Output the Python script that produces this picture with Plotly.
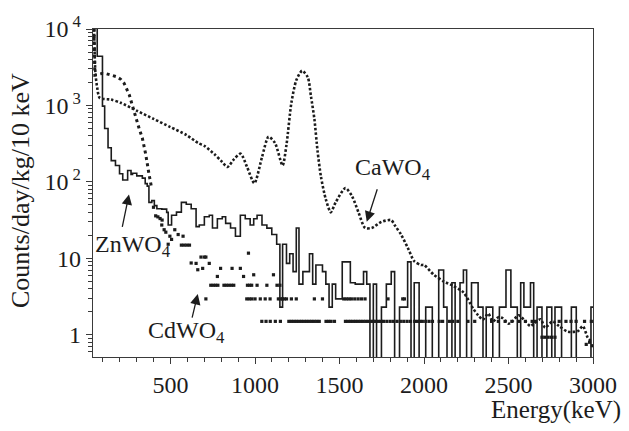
import plotly.graph_objects as go

# ---------------- data ----------------
# ZnWO4 : step histogram, left bin edges (keV) and counts/day/kg/10keV
# 0.01 marks an empty bin (drawn below the visible range)
Z = 0.01
zn_e = [45, 66, 97, 110, 130, 149, 174, 198, 217, 246, 266, 275, 300, 333, 350, 362, 372,
        389, 404, 419, 448, 477, 486, 506, 535, 564, 593, 622, 651, 670, 700, 729, 748,
        777, 806, 826, 855, 884, 913, 942, 971, 992, 1012, 1041, 1070, 1099, 1128, 1147,
        1163, 1186, 1205, 1225, 1244, 1260, 1283, 1322, 1341, 1360, 1399, 1419, 1438,
        1457, 1477, 1516, 1564, 1593, 1642, 1661, 1680, 1700, 1719, 1748, 1777, 1806,
        1826, 1855, 1903, 1923, 1942, 1971, 2010, 2049, 2087, 2116, 2136, 2165, 2184,
        2213, 2233, 2252, 2281, 2320, 2349, 2368, 2407, 2446, 2485, 2514, 2552, 2572,
        2591, 2630, 2649, 2669, 2698, 2727, 2756, 2775, 2814, 2872, 2901, 2988, 3000]
zn_v = [20000, 4400, 980, 500, 280, 190, 164, 128, 106, 141, 125, 130, 120, 112, 95, 88, 54,
        57, 49, 44.5, 44, 40, 27.3, 36.6, 40.3, 54, 51, 44.5, 26, 27.3, 35, 36.6, 25,
        33, 35, 28.7, 25, 19.5, 36.6, 33, 27.3, 33, 36.6, 27.3, 24.9, 20.5, 15.3, 2.3,
        15.3, 8.6, 11.5, 6.7, 25, 4.6, 6.7, 11.5, 4.6, 8.2, 6.7, 4.6, 2.3,
        4.6, 2.95, 9, 4.8, 4.6, 6.7, 4.6, Z, 4.6, Z, 2.3, 4.6, 6.7,
        Z, 2.3, 9, Z, 4.8, Z, 2.3, Z, 7.06, 2.3, Z, 4.8, Z,
        4.8, 7.06, Z, 4.8, 2.3, Z, 2.3, Z, 2.3, 7.06, 2.3, Z, 4.8,
        2.3, 4.8, Z, 2.3, Z, 2.3, Z, 2.3, Z, 2.3, Z, 2.3, 2.3]

# CaWO4 : dotted curve
ca_e = [46, 55, 66, 81, 147, 205, 302, 399, 496, 593, 663, 702, 760, 798, 837, 876, 915,
        953, 996, 1041, 1080, 1118, 1163, 1186, 1215, 1244, 1279, 1312, 1331, 1351, 1370,
        1390, 1419, 1448, 1477, 1535, 1574, 1612, 1651, 1690, 1748, 1806, 1826, 1864,
        1903, 1942, 1981, 2000, 2058, 2116, 2174, 2233, 2291, 2320, 2349, 2380, 2407,
        2440, 2465, 2500, 2523, 2560, 2600, 2630, 2650, 2690, 2717, 2760, 2800, 2850,
        2911, 2940, 2969, 2995]
ca_v = [15000, 2700, 1700, 1254, 1194, 1085, 850, 668, 525, 412, 323, 294, 230, 190, 157,
        199, 234, 156, 96, 210, 390, 323, 164, 306, 1085, 2130, 2850, 2340, 1315, 668,
        253, 117, 59, 40, 54, 83, 65, 40, 25, 25, 30, 31.7, 27.3, 20.5,
        13.9, 9.2, 8.2, 8.2, 6.1, 5.0, 4.35, 3.6, 2.2, 1.8, 1.58, 1.9, 1.5,
        1.7, 1.65, 1.4, 1.5, 1.8, 1.5, 1.3, 1.4, 1.6, 1.24, 1.5, 1.3, 1.1,
        1.12, 1.3, 0.92, 0.8]

# CdWO4 : 113Cd beta spectrum (dotted curve) ...
cd_beta_e = [46, 52, 70, 95, 120, 150, 180, 205, 225, 240, 256, 275, 295, 314, 333, 353,
             372, 385]
cd_beta_v = [15000, 2500, 2550, 2620, 2600, 2500, 2380, 2200, 1950, 1650, 1370, 980, 668,
             500, 374, 230, 128, 90]

# ... and the isolated points above it
cd_pt_e = [399, 412, 425, 438, 450, 448, 462, 472, 486, 496, 506, 525, 545, 574, 564, 580,
           596, 612, 622, 651, 661, 680, 690, 700, 709, 729, 709, 777, 796, 864, 913, 932,
           961, 992, 1109,
           738, 752, 766, 780, 816, 830, 845, 860, 874, 955, 968, 980, 1012, 1070, 1130, 1147,
           951, 966, 981, 1000, 1031, 1060, 1089, 1138, 1150, 1162, 1174, 1186, 1215, 1244,
           1351, 1399, 1525, 1540, 1555, 1570, 1590, 1610, 1630, 1651, 1787, 1874, 1884,
           1040, 1065, 1090, 1120, 1150, 1200, 1215, 1230, 1245, 1260, 1275, 1290, 1305,
           1320, 1335, 1350, 1365, 1380, 1420, 1435, 1450, 1470, 1535, 1550, 1565, 1580,
           1595, 1610, 1625, 1640, 1655, 1670, 1685, 1700, 1715, 1730, 1745, 1760, 1780,
           1800, 1820, 1840, 1860, 1880, 1900, 1920, 1945, 1960, 1975, 1990, 2010, 2030,
           2050, 2090, 2110, 2150, 2170, 2200, 2260, 2300, 2400, 2440, 2480, 2520, 2560,
           2600, 2640, 2660, 2800, 2840, 2870, 2900, 2950, 2990,
           2698, 2715, 2735, 2755, 2775, 2960, 2980, 2995]
cd_pt_v = [46.6, 36, 34.9, 33.2, 31.7, 27.3, 23.7, 22, 15.3, 19.5, 17.7, 23.7, 20.5, 19.5,
           14.9, 14.9, 14.9, 14.9, 8.7, 8.6, 7.1, 10.4, 7.4, 10.4, 10.4, 8.6, 2.95, 5.8,
           7.4, 7.4, 7.4, 5.8, 11.7, 6.1, 6.1,
           4.45, 4.45, 4.45, 4.45, 4.45, 4.45, 4.45, 4.45, 4.45, 4.45, 4.45, 4.45, 4.45,
           4.45, 4.45, 4.45,
           2.95, 2.95, 2.95, 2.95, 2.95, 2.95, 2.95, 2.95, 2.95, 2.95, 2.95, 2.95, 2.95,
           2.95, 2.95, 2.95, 2.95, 2.95, 2.95, 2.95, 2.95, 2.95, 2.95, 2.95, 2.95, 2.95,
           2.95,
           1.5, 1.5, 1.5, 1.5, 1.5, 1.5, 1.5, 1.5, 1.5, 1.5, 1.5, 1.5, 1.5,
           1.5, 1.5, 1.5, 1.5, 1.5, 1.5, 1.5, 1.5, 1.5, 1.5, 1.5, 1.5, 1.5,
           1.5, 1.5, 1.5, 1.5, 1.5, 1.5, 1.5, 1.5, 1.5, 1.5, 1.5, 1.5, 1.5,
           1.5, 1.5, 1.5, 1.5, 1.5, 1.5, 1.5, 1.5, 1.5, 1.5, 1.5, 1.5, 1.5,
           1.5, 1.5, 1.5, 1.5, 1.5, 1.5, 1.5, 1.5, 1.5, 1.5, 1.5, 1.5, 1.5,
           1.5, 1.5, 1.5, 1.5, 1.5, 1.5, 1.5, 1.5, 1.5,
           0.93, 0.93, 0.93, 0.93, 0.93, 0.75, 0.8, 0.72]

x_ticks = [500, 1000, 1500, 2000, 2500, 3000]
y_ticks = [1, 10, 100, 1000, 10000]
y_ticktext = ["1", "10", "10<sup> 2</sup>", "10<sup> 3</sup>", "10<sup> 4</sup>"]

# ---------------- figure ----------------
FONT = "Liberation Serif"
INK = "#1c1c1c"

fig = go.Figure()
fig.add_trace(go.Scatter(x=ca_e, y=ca_v, mode="lines", line_shape="spline",
                         line=dict(color=INK, width=2.6, dash="2.5px,2px", smoothing=0.7),
                         showlegend=False, hoverinfo="skip"))
fig.add_trace(go.Scatter(x=cd_beta_e, y=cd_beta_v, mode="lines",
                         line=dict(color=INK, width=3, dash="3px,3.5px"),
                         showlegend=False, hoverinfo="skip"))
fig.add_trace(go.Scatter(x=cd_pt_e, y=cd_pt_v, mode="markers",
                         marker=dict(symbol="square", size=3.2, color=INK, line=dict(width=0)),
                         showlegend=False, hoverinfo="skip"))
fig.add_trace(go.Scatter(x=zn_e, y=zn_v, mode="lines", line_shape="hv",
                         line=dict(color=INK, width=1.6),
                         showlegend=False, hoverinfo="skip"))

axis_common = dict(showline=True, mirror=True, linecolor="#3a3a3a", linewidth=1.4,
                   showgrid=False, zeroline=False, ticks="outside", ticklen=6,
                   tickwidth=1.2, tickcolor="#3a3a3a",
                   tickfont=dict(family=FONT, size=24, color=INK))

fig.update_xaxes(range=[41, 3000], tickvals=x_ticks,
                 minor=dict(ticks="outside", dtick=100, ticklen=4, tickwidth=1,
                            tickcolor="#3a3a3a", showgrid=False),
                 **axis_common)
fig.update_yaxes(type="log", range=[-0.29, 4.0], tickvals=y_ticks, ticktext=y_ticktext,
                 minor=dict(ticks="outside", dtick="D1", ticklen=4, tickwidth=1,
                            tickcolor="#3a3a3a", showgrid=False),
                 **axis_common)

ann_font = dict(family=FONT, size=24, color=INK)
annotations = [
    # axis titles
    dict(text="Energy(keV)", xref="paper", yref="paper", x=1, y=0, xanchor="right",
         yanchor="middle", xshift=30, yshift=-53, showarrow=False,
         font=dict(family=FONT, size=25, color=INK)),
    dict(text="Counts/day/kg/10 keV", xref="paper", yref="paper", x=0, y=0.5,
         xanchor="center", yanchor="middle", xshift=-73, yshift=2, textangle=-90,
         showarrow=False, font=dict(family=FONT, size=26, color=INK)),
    # labels
    dict(text="ZnWO<sub>4</sub>", xref="x", yref="y", x=41, y=1.16, xanchor="left",
         yanchor="middle", showarrow=False, font=ann_font),
    dict(text="CdWO<sub>4</sub>", xref="x", yref="y", x=355, y=0.04, xanchor="left",
         yanchor="middle", showarrow=False, font=ann_font),
    dict(text="CaWO<sub>4</sub>", xref="x", yref="y", x=1582, y=2.17, xanchor="left",
         yanchor="middle", showarrow=False, font=ann_font),
    # arrows
    dict(text="", xref="x", yref="y", x=254, y=1.837, ax=-7, ay=34, showarrow=True,
         arrowhead=2, arrowsize=1.6, arrowwidth=1.3, arrowcolor=INK),
    dict(text="", xref="x", yref="y", x=661, y=0.533, ax=-6, ay=25, showarrow=True,
         arrowhead=2, arrowsize=1.6, arrowwidth=1.3, arrowcolor=INK),
    dict(text="", xref="x", yref="y", x=1661, y=1.479, ax=11, ay=-34, showarrow=True,
         arrowhead=2, arrowsize=1.6, arrowwidth=1.3, arrowcolor=INK),
]

fig.update_layout(width=629, height=431, margin=dict(l=93, r=27, t=17, b=74),
                  paper_bgcolor="white", plot_bgcolor="white",
                  annotations=annotations)

fig.write_html("out.html")
